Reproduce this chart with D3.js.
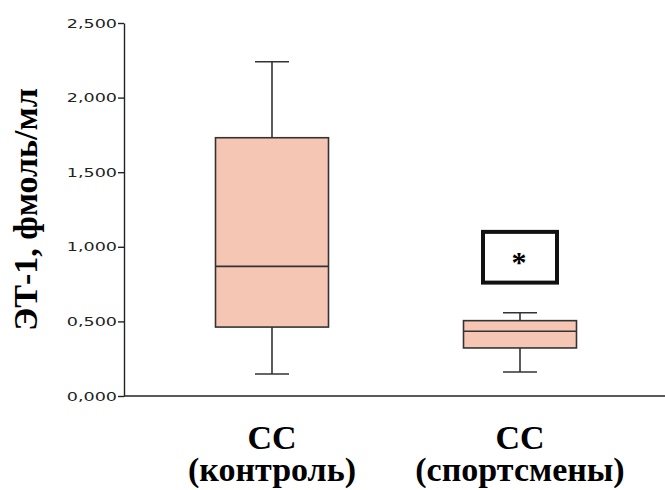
<!DOCTYPE html>
<html>
<head>
<meta charset="utf-8">
<script src="https://cdn.jsdelivr.net/npm/d3@7"></script>
<style>
    body { margin: 0; background: #fff; overflow: hidden; }
</style>
</head>
<body>
<div id="chart"></div>
<script>
// данные
const groups = ["СС\n(контроль)", "СС\n(спортсмены)"];
const whiskerLow = [0.147, 0.161];
const q1Values = [0.462, 0.322];
const medianValues = [0.869, 0.434];
const q3Values = [1.731, 0.505];
const whiskerHigh = [2.24, 0.558];
const yTicks = [0, 0.5, 1.0, 1.5, 2.0, 2.5];
// значимость: звёздочка над второй группой
const sigLow = 0.76, sigHigh = 1.1;

const width = 665, height = 490;
const margin = { top: 23, right: 0, bottom: 94, left: 124 };

const svg = d3.select("#chart")
    .append("svg")
    .attr("width", width)
    .attr("height", height);

const x = d3.scaleBand()
    .domain(groups)
    .range([148, 644]);

const y = d3.scaleLinear()
    .domain([0, 2.5])
    .range([height - margin.bottom, margin.top]);

const fmt = d => d3.format(".3f")(d).replace(".", ",");

// ось Y
const yAxis = svg.append("g")
    .attr("transform", `translate(${margin.left},0)`)
    .call(d3.axisLeft(y).tickValues(yTicks).tickFormat(fmt).tickSize(6).tickSizeOuter(0));
yAxis.select(".domain").attr("stroke", "#222").attr("stroke-width", 1.4);
yAxis.selectAll(".tick line").attr("stroke", "#222").attr("stroke-width", 1.4);
yAxis.selectAll(".tick text")
    .attr("x", null)
    .attr("transform", "translate(-7,0) scale(1.35,1)")
    .style("font-family", "DejaVu Sans")
    .style("font-size", "13px")
    .attr("fill", "#222");

// ось X
svg.append("line")
    .attr("x1", margin.left)
    .attr("x2", width)
    .attr("y1", y(0))
    .attr("y2", y(0))
    .attr("stroke", "#222")
    .attr("stroke-width", 1.4);

// подпись оси Y
svg.append("text")
    .attr("transform", `translate(37,${(y(0) + y(2.5)) / 2}) rotate(-90)`)
    .attr("text-anchor", "middle")
    .style("font-family", "Liberation Serif")
    .style("font-weight", "bold")
    .style("font-size", "34px")
    .text("ЭТ-1, фмоль/мл");

// ящики с усами
const boxW = 113, capW = 34;
groups.forEach((g, i) => {
    const cx = x(g) + x.bandwidth() / 2;
    const grp = svg.append("g");
    grp.append("line")
        .attr("x1", cx).attr("x2", cx)
        .attr("y1", y(whiskerLow[i])).attr("y2", y(whiskerHigh[i]))
        .attr("stroke", "#333").attr("stroke-width", 1.6);
    [whiskerLow[i], whiskerHigh[i]].forEach(v => {
        grp.append("line")
            .attr("x1", cx - capW / 2).attr("x2", cx + capW / 2)
            .attr("y1", y(v)).attr("y2", y(v))
            .attr("stroke", "#333").attr("stroke-width", 1.6);
    });
    grp.append("rect")
        .attr("x", cx - boxW / 2)
        .attr("y", y(q3Values[i]))
        .attr("width", boxW)
        .attr("height", y(q1Values[i]) - y(q3Values[i]))
        .attr("fill", "#f5c6b4")
        .attr("stroke", "#333")
        .attr("stroke-width", 1.6);
    grp.append("line")
        .attr("x1", cx - boxW / 2).attr("x2", cx + boxW / 2)
        .attr("y1", y(medianValues[i])).attr("y2", y(medianValues[i]))
        .attr("stroke", "#333").attr("stroke-width", 1.6);

    // подписи категорий
    const lines = g.split("\n");
    const t = svg.append("text")
        .attr("text-anchor", "middle")
        .style("font-family", "Liberation Serif")
        .style("font-weight", "bold")
        .style("font-size", "34px");
    t.append("tspan").attr("x", cx).attr("y", 449).text(lines[0]);
    t.append("tspan").attr("x", cx).attr("y", 481).text(lines[1]);
});

// рамка со звёздочкой
const cx2 = x(groups[1]) + x.bandwidth() / 2;
svg.append("rect")
    .attr("x", cx2 - 37)
    .attr("y", y(sigHigh))
    .attr("width", 74)
    .attr("height", y(sigLow) - y(sigHigh))
    .attr("fill", "none")
    .attr("stroke", "#111")
    .attr("stroke-width", 4);
svg.append("text")
    .attr("x", cx2 - 1)
    .attr("y", (y(sigLow) + y(sigHigh)) / 2 + 15)
    .attr("text-anchor", "middle")
    .style("font-family", "Liberation Serif")
    .style("font-weight", "bold")
    .style("font-size", "30px")
    .text("*");
</script>
</body>
</html>
